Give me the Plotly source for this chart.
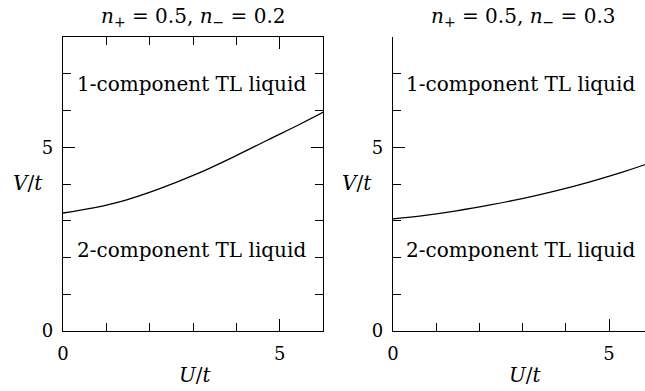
import plotly.graph_objects as go

# Data
u_left = [0, 0.70, 1.47, 2.25, 3.10, 3.94, 4.71, 5.49, 6.0]
v_left = [3.21, 3.35, 3.57, 3.88, 4.28, 4.74, 5.19, 5.64, 5.95]

u_right = [0, 0.70, 1.47, 2.25, 3.02, 3.79, 4.56, 5.33, 5.79, 6.0]
v_right = [3.05, 3.14, 3.27, 3.43, 3.61, 3.82, 4.06, 4.33, 4.51, 4.60]

titles = ["<i>n</i><sub>+</sub> = 0.5, <i>n</i><sub>−</sub> = 0.2",
          "<i>n</i><sub>+</sub> = 0.5, <i>n</i><sub>−</sub> = 0.3"]
phase_upper = "1-component TL liquid"
phase_lower = "2-component TL liquid"
x_title = "<i>U</i>/<i>t</i>"
y_title = "<i>V</i>/<i>t</i>"
tick_vals = [0, 5]
tick_text = ["0", "5"]

W, H = 645, 391
FONT = "DejaVu Serif, Liberation Serif, serif"
FS = 20
FT = 18

fig = go.Figure()
fig.add_trace(go.Scatter(x=u_left, y=v_left, mode="lines",
                         line=dict(color="black", width=1.3, shape="spline", smoothing=1.0),
                         xaxis="x", yaxis="y", showlegend=False, hoverinfo="skip"))
fig.add_trace(go.Scatter(x=u_right, y=v_right, mode="lines",
                         line=dict(color="black", width=1.3, shape="spline", smoothing=1.0),
                         xaxis="x2", yaxis="y2", showlegend=False, hoverinfo="skip"))

def px(x):
    return x / W

def py(y):
    return 1 - y / H

ydom = [py(331), py(37)]
common = dict(showline=True, linecolor="black", linewidth=1.3, mirror="ticks", ticks="inside",
              ticklen=12, tickwidth=1.1, tickcolor="black", showgrid=False, zeroline=False,
              tickvals=tick_vals, ticktext=tick_text, automargin=False,
              tickfont=dict(family=FONT, size=FT, color="black"),
              minor=dict(dtick=1, ticklen=8, tickwidth=1.1, ticks="inside", tickcolor="black", showgrid=False))

fig.update_layout(
    width=W, height=H, margin=dict(l=0, r=0, t=0, b=0, pad=0, autoexpand=False),
    paper_bgcolor="white", plot_bgcolor="white",
    font=dict(family=FONT, size=FS, color="black"),
    xaxis=dict(domain=[px(63), px(323)], range=[0, 6], anchor="y", ticklabelstandoff=6, **common),
    yaxis=dict(domain=ydom, range=[0, 8], anchor="x", ticklabelstandoff=5, **common),
    xaxis2=dict(domain=[px(393), 1.0], range=[0, 252 / 43.2], anchor="y2", ticklabelstandoff=6, **common),
    yaxis2=dict(domain=ydom, range=[0, 8], anchor="x2", ticklabelstandoff=5, **common),
)
fig.update_layout(xaxis2=dict(mirror=False), yaxis2=dict(mirror=False))

ann = []
f = dict(family=FONT, size=FS, color="black")
for xc, title in zip([193, 523], titles):
    ann.append(dict(x=px(xc), y=py(17), xref="paper", yref="paper", text=title, showarrow=False,
                    font=f, xanchor="center", yanchor="middle"))
for xc in [195, 525]:
    ann.append(dict(x=px(xc), y=py(375), xref="paper", yref="paper", text=x_title, showarrow=False,
                    font=f, xanchor="center", yanchor="middle"))
for xc in [28, 357]:
    ann.append(dict(x=px(xc), y=py(183), xref="paper", yref="paper", text=y_title, showarrow=False,
                    font=f, xanchor="center", yanchor="middle"))
for xr, yr in [("x", "y"), ("x2", "y2")]:
    ann.append(dict(x=2.96, y=6.72, xref=xr, yref=yr, text=phase_upper, showarrow=False, font=f,
                    xanchor="center", yanchor="middle"))
    ann.append(dict(x=2.96, y=2.2, xref=xr, yref=yr, text=phase_lower, showarrow=False, font=f,
                    xanchor="center", yanchor="middle"))
fig.update_layout(annotations=ann)

fig.write_html("out.html", config={"displayModeBar": False},
               post_script="document.body.style.margin='0';")
